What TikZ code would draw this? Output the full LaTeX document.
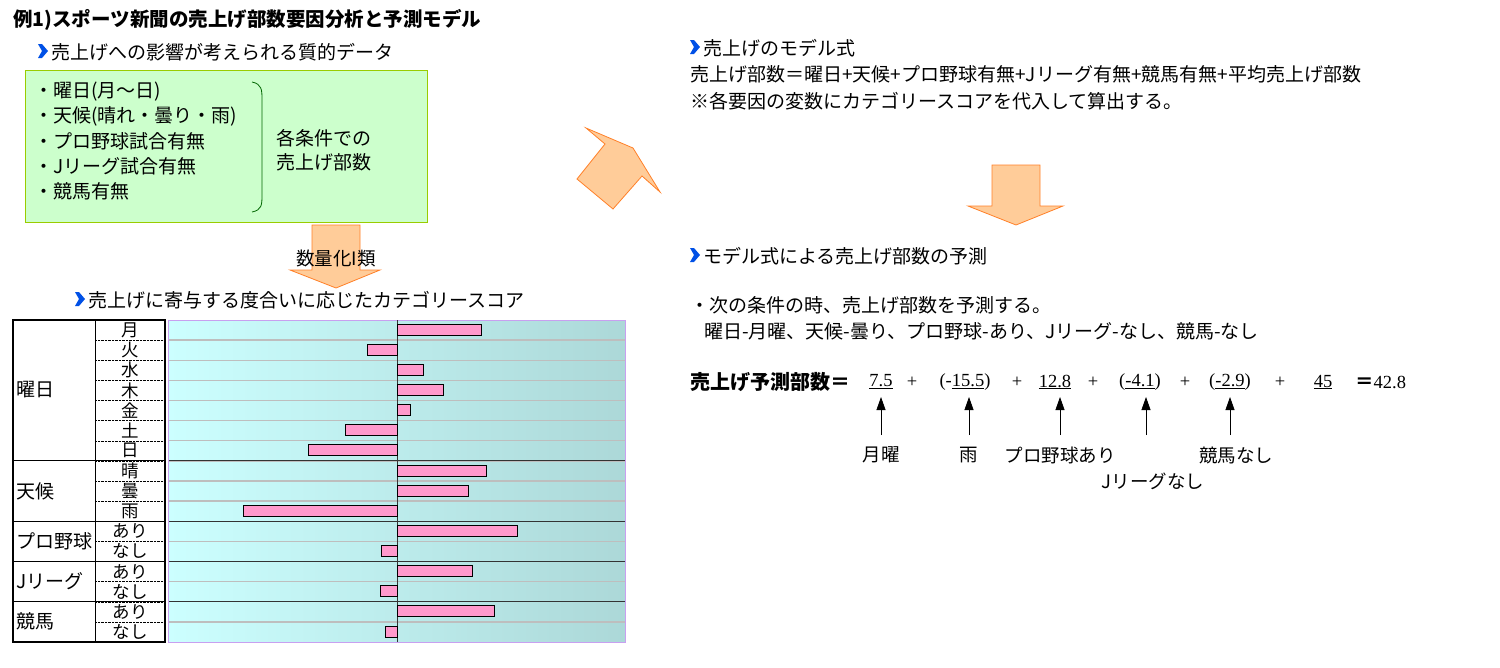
\documentclass[tikz,border=0pt]{standalone}
\usepackage{fontspec}
\setmainfont{Noto Sans CJK JP}
\newfontfamily\tms{Liberation Serif}
\usetikzlibrary{arrows.meta}
\definecolor{grn}{RGB}{204,255,204}
\definecolor{grnb}{RGB}{153,204,0}
\definecolor{org}{RGB}{255,204,153}
\definecolor{orgb}{RGB}{255,128,40}
\definecolor{bar}{RGB}{255,153,204}
\definecolor{cy1}{RGB}{204,255,255}
\definecolor{cy2}{RGB}{172,216,216}
\definecolor{pur}{RGB}{200,160,240}
\definecolor{blu}{RGB}{0,80,230}
\definecolor{gl}{RGB}{190,190,190}
\newcommand{\mybul}[2]{\fill[blu] (#1,#2-7) -- (#1+4,#2) -- (#1,#2+7) -- (#1+4,#2+7) -- (#1+10,#2) -- (#1+4,#2-7) -- cycle;}
\begin{document}
\begin{tikzpicture}[x=1pt,y=-1pt,
  t/.style={anchor=west,inner sep=0,font=\fontsize{19}{22}\selectfont},
  up/.style={-{Triangle[length=13pt,width=9pt]},thick},
  num/.style={inner sep=0,font=\tms\fontsize{18.5}{19}\selectfont},
  lab/.style={inner sep=0,font=\fontsize{18.5}{19}\selectfont},
  big/.style={draw=orgb,fill=org,line width=0.8pt}]
\useasboundingbox (0,0) rectangle (1500,667);
% title
\node[t,font=\fontsize{19.5}{22}\selectfont\bfseries] (title) at (13,20) {例1)スポーツ新聞の売上げ部数要因分析と予測モデル};
\mybul{38}{51}
\node[t] (h1) at (51,52) {売上げへの影響が考えられる質的データ};
% green box
\node[draw=grnb,fill=grn,minimum width=402,minimum height=152,anchor=north west,inner sep=0] (gbox) at (25,70) {};
\foreach \s [count=\i from 0] in {・曜日(月～日),・天候(晴れ・曇り・雨),・プロ野球試合有無,・Jリーグ試合有無,・競馬有無}
  \node[t] (g\i) at (34,92+24.7*\i) {\s};
\draw[thick,green!40!black] (252,82) .. controls (262,84) and (262,90) .. (262,100) -- (262,194) .. controls (262,205) and (262,210) .. (252,212);
\node[t,align=left] (cond) at (276,150) {各条件での\\[2pt]売上げ部数};
% down arrow
\draw[big] (312,225) -- (360,225) -- (360,270) -- (380,270) -- (336,288) -- (290,270) -- (312,270) -- cycle;
\node[lab] (q) at (336,258) {数量化I類};
% diagonal arrow
\draw[big] (586,128) -- (633,148) -- (660,192) -- (642,176) -- (613,209) -- (577,179) -- (605,144) -- cycle;
% right arrow down
\draw[big] (992,165) -- (1040,165) -- (1040,206) -- (1063,206) -- (1016,225) -- (968,206) -- (992,206) -- cycle;
% chart title
\mybul{75}{299}
\node[t] (h2) at (88,300) {売上げに寄与する度合いに応じたカテゴリースコア};
% chart
\shade[left color=cy1,right color=cy2] (168,320) rectangle (625,642);
\foreach \i in {1,...,15} \draw[gl,line width=1.4pt] (168,{320+20.125*\i}) -- (625,{320+20.125*\i});
\foreach \i in {7,10,12,14} \draw[black!80,line width=0.8pt] (168,{320+20.125*\i}) -- (625,{320+20.125*\i});
\draw[pur,line width=1pt] (168,320) rectangle (625,642);
\draw[black!80] (397,320) -- (397,642);
\foreach \v [count=\i from 0] in {481.6,367.6,423,443,410,345.5,308,486.5,468.4,243,517.6,381.6,472,380,494,385}
  \draw[fill=bar,line width=0.6pt] (397,{320+20.125*\i+4}) rectangle (\v,{320+20.125*\i+15});
% table
\foreach \i in {1,...,15} \draw[densely dotted] (95,{320+20.125*\i}) -- (165,{320+20.125*\i});
\foreach \i in {7,10,12,14} \draw[line width=1.2pt] (13,{320+20.125*\i}) -- (165,{320+20.125*\i});
\draw[line width=1.2pt] (13,320) rectangle (165,642);
\draw[line width=1pt] (95,320) -- (95,642);
\foreach \s [count=\i from 0] in {月,火,水,木,金,土,日,晴,曇,雨,あり,なし,あり,なし,あり,なし}
  \node[inner sep=0,font=\fontsize{17.5}{17}\selectfont] (c\i) at (130,{320+20.125*\i+10}) {\s};
\node[t] (r1) at (16,390) {曜日};
\node[t] (r2) at (16,491) {天候};
\node[t] (r3) at (16,541) {プロ野球};
\node[t] (r4) at (16,581) {Jリーグ};
\node[t] (r5) at (16,621) {競馬};
% right texts
\mybul{690}{47}
\node[t] (h3) at (703,48) {売上げのモデル式};
\node[t] (m1) at (690,74) {売上げ部数＝曜日+天候+プロ野球有無+Jリーグ有無+競馬有無+平均売上げ部数};
\node[t] (m2) at (690,101) {※各要因の変数にカテゴリースコアを代入して算出する。};
\mybul{690}{255}
\node[t] (h4) at (703,256) {モデル式による売上げ部数の予測};
\node[t] (p1) at (690,305) {・次の条件の時、売上げ部数を予測する。};
\node[t] (p2) at (704,331) {曜日-月曜、天候-曇り、プロ野球-あり、Jリーグ-なし、競馬-なし};
% formula
\node[t,font=\fontsize{20}{22}\selectfont\bfseries] (f0) at (690,382) {売上げ予測部数＝};
\node[num] (v1) at (881,382) {\underline{7.5}};
\node[num] (p1a) at (912,382) {+};
\node[num] (v2) at (965,382) {(-\underline{15.5})};
\node[num] (p2a) at (1017,382) {+};
\node[num] (v3) at (1055,382) {\underline{12.8}};
\node[num] (p3a) at (1093,382) {+};
\node[num] (v4) at (1140,382) {(\underline{-4.1})};
\node[num] (p4a) at (1185,382) {+};
\node[num] (v5) at (1230,382) {(\underline{-2.9})};
\node[num] (p5a) at (1280,382) {+};
\node[num] (v6) at (1323,382) {\underline{45}};
\node[num,anchor=west] (v7) at (1355,382) {{\rmfamily\bfseries ＝}42.8};
\coordinate (a1) at (881,435); \coordinate (b1) at (881,397);
\coordinate (a2) at (969,435); \coordinate (b2) at (969,397);
\coordinate (a3) at (1060,435); \coordinate (b3) at (1060,397);
\coordinate (a4) at (1146,435); \coordinate (b4) at (1146,397);
\coordinate (a5) at (1230,435); \coordinate (b5) at (1230,397);
\foreach \k in {1,...,5} \draw[up] (a\k) -- (b\k);
\node[lab] (l1) at (881,455) {月曜};
\node[lab] (l2) at (969,455) {雨};
\node[lab] (l3) at (1060,455) {プロ野球あり};
\node[lab] (l5) at (1236,455) {競馬なし};
\node[lab] (l4) at (1153,481) {Jリーグなし};
\end{tikzpicture}
\end{document}
